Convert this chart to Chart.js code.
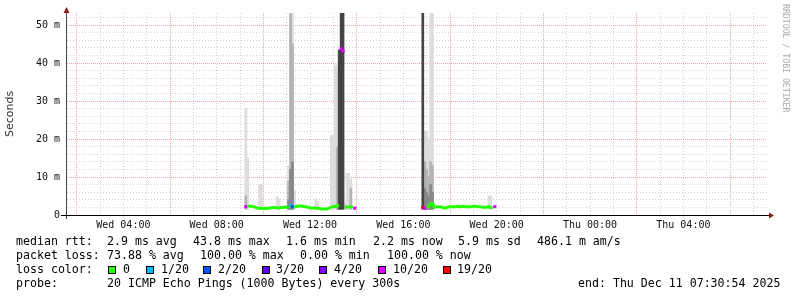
<!DOCTYPE html>
<html>
<head>
<meta charset="utf-8">
<script src="https://cdn.jsdelivr.net/npm/chart.js@4.4.0/dist/chart.umd.min.js"></script>
<style>
  body { margin: 0; background: #fff; }
  #wrap { position: relative; width: 797px; height: 297px; overflow: hidden; font-family: 'DejaVu Sans Mono', monospace; }
  #wrap canvas { position: absolute; left: 0; top: 0; }
  .t { position: absolute; font-size: 11.6px; line-height: 14px; white-space: pre; color: #000; }
  .sw { position: absolute; width: 6px; height: 6px; border: 1px solid #000; }
  #credit { position: absolute; left: 781px; top: 4px; writing-mode: vertical-rl; font-size: 8.2px; line-height: 10px; color: #aaa; white-space: pre; }
</style>
</head>
<body>
<div id="wrap">
  <canvas id="ChartPing" width="797" height="297"></canvas>
  <div id="credit">RRDTOOL / TOBI OETIKER</div>

  <div class="t" style="left:16px;top:234px">median rtt:</div>
  <div class="t" style="left:107px;top:234px">2.9 ms avg</div>
  <div class="t" style="left:193px;top:234px">43.8 ms max</div>
  <div class="t" style="left:286px;top:234px">1.6 ms min</div>
  <div class="t" style="left:373px;top:234px">2.2 ms now</div>
  <div class="t" style="left:458px;top:234px">5.9 ms sd</div>
  <div class="t" style="left:537px;top:234px">486.1 m am/s</div>

  <div class="t" style="left:16px;top:248px">packet loss:</div>
  <div class="t" style="left:107px;top:248px">73.88 % avg</div>
  <div class="t" style="left:200px;top:248px">100.00 % max</div>
  <div class="t" style="left:300px;top:248px">0.00 % min</div>
  <div class="t" style="left:387px;top:248px">100.00 % now</div>

  <div class="t" style="left:16px;top:262px">loss color:</div>
  <div id="swatches"></div>

  <div class="t" style="left:16px;top:276px">probe:</div>
  <div class="t" style="left:107px;top:276px">20 ICMP Echo Pings (1000 Bytes) every 300s</div>
  <div class="t" style="left:578px;top:276px">end: Thu Dec 11 07:30:54 2025</div>
</div>

<script>
// pings lost out of 20 -> colour
var lossSteps  = [0, 1, 2, 3, 4, 10, 19];
var lossNames  = ['0', '1/20', '2/20', '3/20', '4/20', '10/20', '19/20'];
var lossColors = ['#26ff00', '#00b8ff', '#0059ff', '#5e00ff', '#7e00ff', '#dd00ff', '#ff0000'];

// median rtt (ms), one value every 5 minutes
var seg1Start = '09:15';
var seg1Median = [2.2,2.4,2.3,2.3,2.2,2.0,1.8,1.7,1.8,1.7,
                  1.8,1.7,1.8,1.9,2.0,2.0,1.9,1.8,2.0,2.0,
                  2.1,2.0,2.2,2.5,2.2,2.1,2.3,2.3,2.4,2.3,
                  2.2,2.2,2.0,1.9,1.8,1.9,1.8,1.8,1.7,1.6,
                  1.6,1.6,1.6,1.9,2.1,2.2,2.3,2.4,2.5,43.8,
                  43.2,2.0,2.1,2.1,2.2,2.0,1.8];
var seg1Loss   = [10,0,0,0,0,0,0,0,0,0,
                  0,0,0,0,0,0,0,0,0,0,
                  0,0,0,1,2,0,0,0,0,0,
                  0,0,0,0,0,0,0,0,0,0,
                  0,0,0,0,0,0,0,0,0,10,
                  10,0,0,0,0,0,10];

var seg2Start = '16:50';
var seg2Median = [2.0,1.8,1.9,2.2,3.0,3.0,2.0,2.1,2.2,2.2,
                  2.0,1.8,1.9,2.1,2.2,2.2,2.1,2.2,2.3,2.2,
                  2.2,2.3,2.2,2.2,2.1,2.2,2.3,2.3,2.2,2.2,
                  2.1,2.1,2.0,2.1,2.2,1.9,2.0,2.2];
var seg2Loss   = [19,10,0,0,0,0,0,0,0,0,
                  0,0,0,0,0,0,0,0,0,0,
                  0,0,0,0,0,0,0,0,0,0,
                  0,0,0,0,0,0,0,10];

// smoke (spread of the 20 pings), top of each band in ms
var smokeLow = 1.5;
var smokeLightTime = ['09:15','09:20','09:50','09:55','10:35','10:40','11:05','11:10','11:15','11:20','12:15','12:20','12:55','13:00','13:05','13:10','13:15','13:30','13:35','13:40','13:45','16:55','17:00','17:05','17:10','17:15','19:40','19:45'];
var smokeLightTop  = [28, 15, 8, 8, 4.8, 4.2, 13, 60, 60, 6.5, 4.2, 3.6, 21, 21, 39.5, 39.5, 43.5, 3, 11, 11, 9.5, 22, 22, 20, 60, 60, 5, 5];
var smokeMidTime = ['09:15','11:05','11:10','11:15','13:10','13:45','16:55','17:00','17:05','17:10','17:15'];
var smokeMidTop  = [5, 9, 60, 45, 18, 7, 14, 12, 10, 14, 13];
var smokeDeepTime = ['11:05','11:10','11:15','16:55','17:00','17:05','17:10','17:15'];
var smokeDeepTop  = [4, 12, 14, 7, 6, 5, 8, 6];
var smokeDarkTime = ['13:15','13:20','13:25','16:50'];
var smokeDarkTop  = [43.5, 60, 60, 60];

// axes: hours since Wed 00:00, last 30 hours
var xStart = 1.585;
var xEnd = 31.585;
var yMax = 53.2;
var dayNames = ['Wed', 'Thu'];

function hrs(s) {
  var p = s.split(':');
  return Number(p[0]) + Number(p[1]) / 60;
}

function colorFor(loss) {
  return lossColors[lossSteps.indexOf(loss)];
}

function medianPoints(start, values, losses, wantLoss) {
  var out = [];
  var t0 = hrs(start);
  for (var i = 0; i < values.length; i++) {
    var hit = wantLoss ? losses[i] > 0 : losses[i] === 0;
    out.push({x: t0 + i * 5 / 60, y: hit ? values[i] : null, loss: losses[i]});
  }
  return out;
}

function smokeBars(times, tops) {
  var out = [];
  for (var i = 0; i < times.length; i++) {
    out.push({x: hrs(times[i]), y: [smokeLow, tops[i]]});
  }
  return out;
}

// legend swatches
var sw = document.getElementById('swatches');
var swLeft = [108, 146, 203, 262, 319, 378, 443];
var swText = [123, 161, 218, 276, 334, 393, 457];
for (var i = 0; i < lossNames.length; i++) {
  var b = document.createElement('div');
  b.className = 'sw';
  b.style.left = swLeft[i] + 'px';
  b.style.top = '266px';
  b.style.background = lossColors[i];
  sw.appendChild(b);
  var l = document.createElement('div');
  l.className = 't';
  l.style.left = swText[i] + 'px';
  l.style.top = '262px';
  l.textContent = lossNames[i];
  sw.appendChild(l);
}

var greenData = medianPoints(seg1Start, seg1Median, seg1Loss, false)
  .concat([{x: (hrs('14:00') + hrs(seg2Start)) / 2, y: null}])
  .concat(medianPoints(seg2Start, seg2Median, seg2Loss, false));
var lossData = medianPoints(seg1Start, seg1Median, seg1Loss, true)
  .concat(medianPoints(seg2Start, seg2Median, seg2Loss, true))
  .filter(function(p) { return p.y !== null; });

var axisArrows = {
  id: 'axisArrows',
  afterDraw: function(chart) {
    var ctx = chart.ctx;
    var a = chart.chartArea;
    ctx.save();
    ctx.lineWidth = 1;
    ctx.strokeStyle = '#444';
    ctx.beginPath();
    ctx.moveTo(a.left - 0.5, a.bottom + 4);
    ctx.lineTo(a.left - 0.5, a.top - 2);
    ctx.stroke();
    ctx.strokeStyle = '#000';
    ctx.beginPath();
    ctx.moveTo(a.left - 6, a.bottom + 0.5);
    ctx.lineTo(a.right + 3, a.bottom + 0.5);
    ctx.stroke();
    ctx.fillStyle = '#8b1a1a';
    ctx.beginPath();
    ctx.moveTo(a.left - 0.5, a.top - 6);
    ctx.lineTo(a.left - 3.5, a.top);
    ctx.lineTo(a.left + 2.5, a.top);
    ctx.closePath();
    ctx.fill();
    ctx.beginPath();
    ctx.moveTo(a.right + 7, a.bottom + 0.5);
    ctx.lineTo(a.right + 2, a.bottom - 2.5);
    ctx.lineTo(a.right + 2, a.bottom + 3.5);
    ctx.closePath();
    ctx.fill();
    ctx.restore();
  }
};

var majorGrid = 'rgba(224, 80, 80, 0.5)';
var minorGrid = '#d2d2d2';

function isMajorY(c) {
  return c.tick !== undefined && Math.round(c.tick.value) % 10 === 0;
}
function isMajorX(c) {
  return c.tick !== undefined && Math.round(c.tick.value) % 4 === 2;
}

const chartPing = document.getElementById('ChartPing');
if (chartPing) {
  var ctx = chartPing.getContext('2d');
  var pingGraph = new Chart(ctx, {
    type: 'bar',
    data: {
      datasets: [
        {type: 'line', data: greenData, borderColor: lossColors[0], borderWidth: 3, pointRadius: 0, spanGaps: false, order: 1},
        {type: 'line', data: lossData, showLine: false, pointStyle: 'rect', pointRadius: 2.2, pointBorderWidth: 0,
         pointBackgroundColor: function(c) { return c.raw ? colorFor(c.raw.loss) : '#000'; }, order: 0},
        {data: smokeBars(smokeDarkTime, smokeDarkTop), backgroundColor: '#444444', order: 2},
        {data: smokeBars(smokeDeepTime, smokeDeepTop), backgroundColor: '#888888', order: 3},
        {data: smokeBars(smokeMidTime, smokeMidTop), backgroundColor: '#b4b4b4', order: 4},
        {data: smokeBars(smokeLightTime, smokeLightTop), backgroundColor: '#dddddd', order: 5}
      ]
    },
    options: {
      responsive: false,
      animation: false,
      devicePixelRatio: 1,
      layout: {padding: {left: 0, top: 13, right: 30, bottom: 0}},
      datasets: {bar: {barThickness: 2, grouped: false, borderWidth: 0}},
      plugins: {legend: {display: false}, tooltip: {enabled: false}},
      scales: {
        x: {
          type: 'linear',
          min: xStart,
          max: xEnd,
          offset: false,
          afterFit: function(s) { s.height = 82; },
          afterBuildTicks: function(s) {
            var t = [];
            for (var h = Math.ceil(xStart); h <= Math.floor(xEnd); h++) t.push({value: h});
            s.ticks = t;
          },
          grid: {
            offset: false,
            drawTicks: false,
            color: function(c) { return isMajorX(c) ? majorGrid : minorGrid; }
          },
          border: {display: false, dash: function(c) { return isMajorX(c) ? [1, 1] : [1, 2]; }},
          ticks: {
            autoSkip: false,
            maxRotation: 0,
            padding: 4,
            color: '#111',
            font: {family: 'DejaVu Sans Mono', size: 10},
            callback: function(v) {
              if (v % 4 !== 0) return '';
              var hh = v % 24;
              return dayNames[Math.floor(v / 24)] + ' ' + (hh < 10 ? '0' : '') + hh + ':00';
            }
          }
        },
        y: {
          min: 0,
          max: yMax,
          afterFit: function(s) { s.width = 67; },
          afterBuildTicks: function(s) {
            var t = [];
            for (var v = 0; v <= yMax; v += 2) t.push({value: v});
            s.ticks = t;
          },
          grid: {
            drawTicks: false,
            color: function(c) { return isMajorY(c) ? majorGrid : minorGrid; }
          },
          border: {display: false, dash: function(c) { return isMajorY(c) ? [1, 1] : [1, 2]; }},
          title: {display: true, text: 'Seconds', color: '#333', font: {family: 'DejaVu Sans', size: 11}, padding: {top: 4, bottom: 0}},
          ticks: {
            autoSkip: false,
            padding: 7,
            color: '#111',
            font: {family: 'DejaVu Sans Mono', size: 10},
            callback: function(v) {
              if (v % 10 !== 0) return '';
              return v === 0 ? '0' : v + ' m';
            }
          }
        }
      }
    },
    plugins: [axisArrows]
  });
}
</script>
</body>
</html>
